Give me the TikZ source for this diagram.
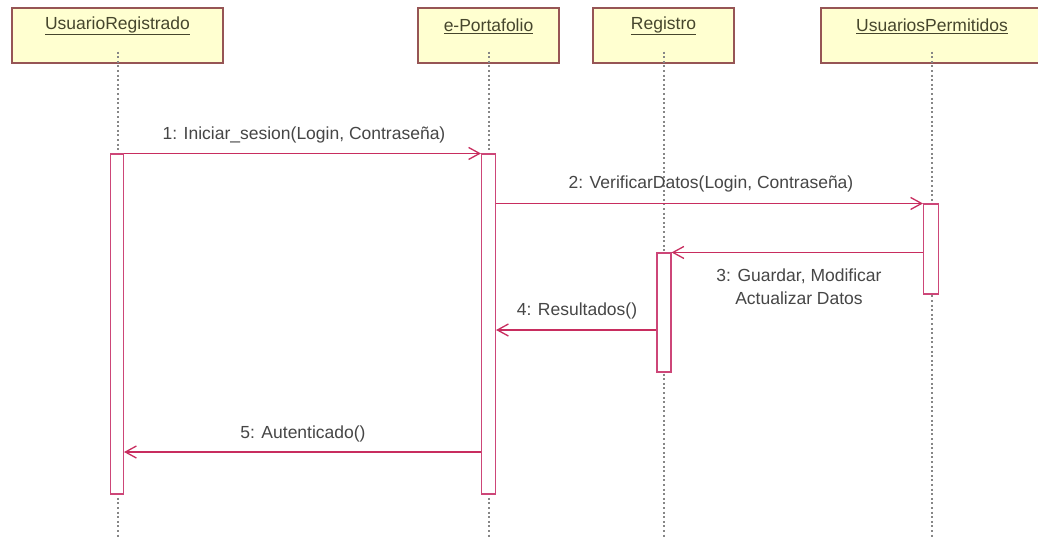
\documentclass[tikz,border=0pt]{standalone}
\usepackage{fontspec}
\setmainfont{Liberation Sans}
\usetikzlibrary{arrows.meta}

\begin{document}
\begin{tikzpicture}[x=1pt,y=1pt,yscale=-1,xscale=1,
  objbox/.style={draw={rgb, 255:red, 150; green, 85; blue, 85 },fill={rgb, 255:red, 255; green, 255; blue, 208 },line width=1.2,minimum height=55,inner sep=0},
  objtext/.style={inner sep=0.75pt,font=\fontsize{17.5}{20}\selectfont,color={rgb, 255:red, 70; green, 70; blue, 45 }},
  lifeline/.style={color={rgb, 255:red, 135; green, 135; blue, 135 },line width=2,dash pattern=on 2pt off 2.6pt},
  actbar/.style={draw={rgb, 255:red, 205; green, 70; blue, 120 },fill=white,line width=1.1,inner sep=0,minimum width=14},
  msg/.style={color={rgb, 255:red, 200; green, 45; blue, 95 },line width=1.3,-{Straight Barb[length=11pt,width=12pt]}},
  msgtext/.style={inner sep=0.75pt,font=\fontsize{17.5}{23}\selectfont,color={rgb, 255:red, 70; green, 70; blue, 70 },align=center}]
\useasboundingbox (0,0) rectangle (1038,542);
\fill[white] (0,0) rectangle (1038,542);

%Shape: Rectangle
\node[objbox,minimum width=211] (ur) at (117.5,35.5) {};
\node[objbox,minimum width=141] (ep) at (488.5,35.5) {};
\node[objbox,minimum width=141] (rg) at (663.5,35.5) {};
\node[objbox,minimum width=222] (up) at (932,35.5) {};
% Text Node
\node[objtext] (urText) at (117.5,26) {\underline{UsuarioRegistrado}};
\node[objtext] (epText) at (488.5,26) {\underline{e-Portafolio}};
\node[objtext] (rgText) at (663.5,26) {\underline{Registro}};
\node[objtext] (upText) at (932,26) {\underline{UsuariosPermitidos}};

%Straight Lines
\coordinate (bottom) at (0,537);
\draw[lifeline] ([yshift=-12pt]ur.south) -- (ur.south |- bottom);
\draw[lifeline] ([yshift=-12pt]ep.south) -- (ep.south |- bottom);
\draw[lifeline] ([yshift=-12pt]rg.south) -- (rg.south |- bottom);
\draw[lifeline] ([yshift=-12pt]up.south) -- (up.south |- bottom);

%Shape: Rectangle
\node[actbar,minimum width=13,minimum height=340] (actUR) at (117,324) {};
\node[actbar,minimum height=340] (actEP) at (488.5,324) {};
\node[actbar,minimum height=119] (actRG) at (664,312.5) {};
\node[actbar,minimum width=15,minimum height=90] (actUP) at (931,249) {};

%Straight Lines
\coordinate (m4) at (0,330);
\coordinate (m5) at (0,452);
\draw[msg] (actUR.north east) -- (actEP.north west);
\draw[msg] (actEP.east |- actUP.north) -- (actUP.north west);
\draw[msg] (actUP.west |- actRG.north) -- (actRG.north east);
\draw[msg] (actRG.west |- m4) -- (actEP.east |- m4);
\draw[msg] (actEP.west |- m5) -- (actUR.east |- m5);

% Text Node
\node[msgtext] (msg1) at (304,135) {1: Iniciar\_sesion(Login, Contraseña)};
\node[msgtext] (msg2) at (711,184) {2: VerificarDatos(Login, Contraseña)};
\node[msgtext] (msg3) at (799,287) {3: Guardar, Modificar\\Actualizar Datos};
\node[msgtext] (msg4) at (577,311) {4: Resultados()};
\node[msgtext] (msg5) at (303,434) {5: Autenticado()};

\end{tikzpicture}
\end{document}
